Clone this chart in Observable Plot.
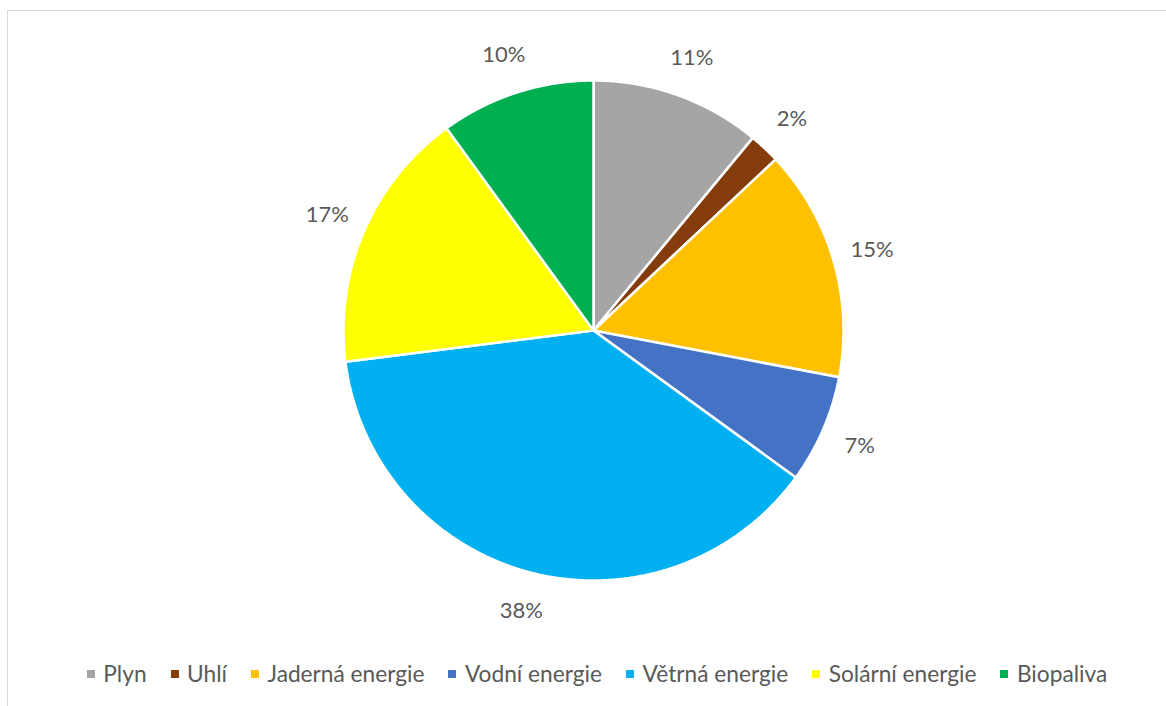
<!DOCTYPE html>
<html><head><meta charset="utf-8">
<script src="https://cdn.jsdelivr.net/npm/d3@7"></script>
<script src="https://cdn.jsdelivr.net/npm/@observablehq/plot@0.6"></script>
<style>
body{margin:0;background:#fff;}
#wrap{position:relative;width:1166px;height:706px;overflow:hidden;font-family:Lato,"Open Sans",sans-serif;}
#frame{position:absolute;left:7px;top:10px;width:1300px;height:800px;border-left:1px solid #d9d9d9;border-top:1px solid #d9d9d9;}
#chart{position:absolute;left:0;top:0;}
#legend{position:absolute;left:14px;width:1166px;top:660px;display:flex;justify-content:center;align-items:center;color:#595959;font-size:22.7px;white-space:nowrap;}
.item{display:flex;align-items:center;margin:0 12px;}
.sw{width:8px;height:8px;margin-right:8.5px;}
</style></head>
<body><div id="wrap"><div id="frame"></div><div id="chart"></div><div id="legend"></div></div>
<script>
const categories = ["Plyn","Uhlí","Jaderná energie","Vodní energie","Větrná energie","Solární energie","Biopaliva"];
const shares = [11,2,15,7,38,17,10];
const colors = ["#A5A5A5","#843C0C","#FFC000","#4472C4","#00B0F0","#FFFF00","#00B050"];

const W = 1166, H = 706, CX = 593, CY = 330, R = 250, LR = 290;
const arcs = d3.pie().sort(null).value(d => d)(shares);

const poly = [];
arcs.forEach((a, i) => {
  const cat = categories[i];
  poly.push({cat, x: 0, y: 0});
  const n = Math.max(2, Math.ceil((a.endAngle - a.startAngle) / 0.005));
  for (let k = 0; k <= n; k++) {
    const t = a.startAngle + (a.endAngle - a.startAngle) * k / n;
    poly.push({cat, x: R * Math.sin(t), y: R * Math.cos(t)});
  }
});
const labels = arcs.map((a, i) => {
  const m = (a.startAngle + a.endAngle) / 2;
  return {x: LR * Math.sin(m), y: LR * Math.cos(m), t: shares[i] + "%"};
});

const chart = Plot.plot({
  width: W, height: H, margin: 0,
  x: {domain: [-CX, W - CX], axis: null},
  y: {domain: [-(H - CY), CY], axis: null},
  color: {domain: categories, range: colors},
  style: {background: "transparent", fontFamily: "Lato, 'Open Sans', sans-serif"},
  marks: [
    Plot.line(poly, {x: "x", y: "y", z: "cat", fill: "cat", stroke: "white", strokeWidth: 2.5, curve: "linear-closed", strokeLinejoin: "miter"}),
    Plot.text(labels, {x: "x", y: "y", text: "t", fill: "#595959", fontSize: 22})
  ]
});
document.getElementById("chart").appendChild(chart);

const lg = document.getElementById("legend");
categories.forEach((c, i) => {
  const it = document.createElement("div"); it.className = "item";
  const sw = document.createElement("div"); sw.className = "sw"; sw.style.background = colors[i];
  const tx = document.createElement("span"); tx.textContent = c;
  it.appendChild(sw); it.appendChild(tx); lg.appendChild(it);
});
</script></body></html>
